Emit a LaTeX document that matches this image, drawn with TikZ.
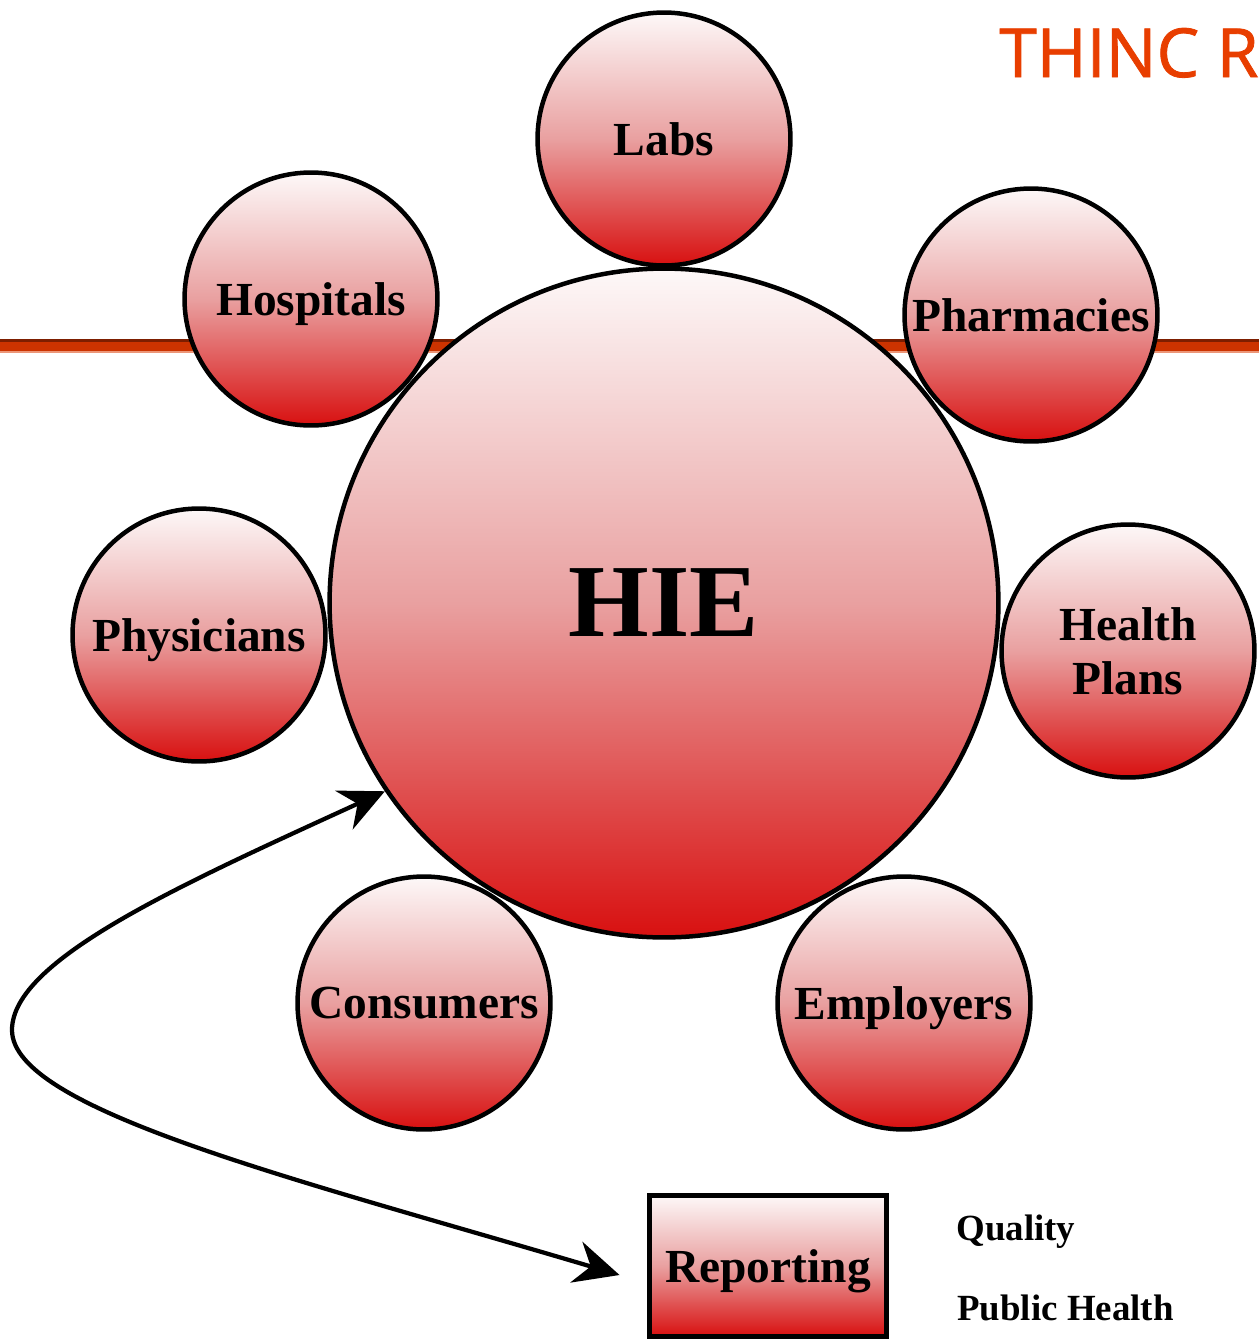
\documentclass[tikz,border=0pt]{standalone}
\usepackage{fontspec}
\setmainfont{Liberation Serif}
\newfontfamily\thincfont[FakeBold=1.2]{Open Sans}
\usetikzlibrary{arrows.meta}
\definecolor{ballwhite}{RGB}{253,248,248}
\definecolor{ballmid}{RGB}{233,160,160}
\definecolor{ballred}{RGB}{216,16,16}
\definecolor{barred}{RGB}{204,51,0}
\definecolor{bardark}{RGB}{125,30,0}
\definecolor{barlight}{RGB}{236,150,120}
\definecolor{thincorange}{RGB}{232,62,0}

\begin{document}
\begin{tikzpicture}[x=0.02cm, y=-0.02cm,
    ball/.style={circle, draw=black, line width=0.09cm, top color=ballwhite,
        bottom color=ballred, middle color=ballmid, minimum size=5.06cm,
        inner sep=0pt, align=center, text depth=0pt, font=\bfseries\fontsize{27}{31}\selectfont},
    link/.style={line width=0.085cm,
        {Stealth[length=0.9cm, width=0.85cm, inset=0.3cm]}-{Stealth[length=0.9cm, width=0.85cm, inset=0.3cm]}},
    side/.style={anchor=base west, inner sep=0pt, font=\bfseries\fontsize{21}{25}\selectfont}]
    \useasboundingbox (0, 0) rectangle (1259, 1340);

    \fill[barlight] (0, 350) rectangle (1259, 353);
    \fill[barred] (0, 341) rectangle (1259, 351);
    \fill[bardark] (0, 339) rectangle (1259, 342);
    \node[anchor=base west, inner sep=0pt, text=thincorange, font=\thincfont\fontsize{38.5}{42}\selectfont] (title) at (999, 77) {THINC R};

    \node[ball, minimum size=13.38cm, font=\bfseries\fontsize{59}{64}\selectfont] (hie) at (664, 603) {HIE};
    \node[ball] (labs) at (664, 139) {Labs};
    \node[ball] (hospitals) at (311, 299) {Hospitals};
    \node[ball] (pharmacies) at (1031, 315) {Pharmacies};
    \node[ball] (physicians) at (199, 635) {Physicians};
    \node[ball] (plans) at (1128, 651) {Health\\Plans};
    \node[ball] (consumers) at (424, 1003) {Consumers};
    \node[ball] (employers) at (904, 1003) {Employers};

    \node[draw=black, line width=0.1cm, top color=ballwhite, bottom color=ballred, middle color=ballmid,
        minimum width=4.74cm, minimum height=2.82cm, inner sep=0pt, text depth=0pt,
        font=\bfseries\fontsize{27}{31}\selectfont] (reporting) at (768, 1266) {Reporting};
    \node[side] (quality) at (956, 1240) {Quality};
    \node[side] (public) at (957, 1320) {Public Health};

    \coordinate (bend) at (12, 1030);
    \coordinate (reptip) at ([shift={(-0.55cm, -0.18cm)}]reporting.west);
    \draw[link] (hie.214) .. controls (180, 885) and (12, 960) .. (bend)
        .. controls (12, 1110) and (300, 1180) .. (reptip);
\end{tikzpicture}
\end{document}
